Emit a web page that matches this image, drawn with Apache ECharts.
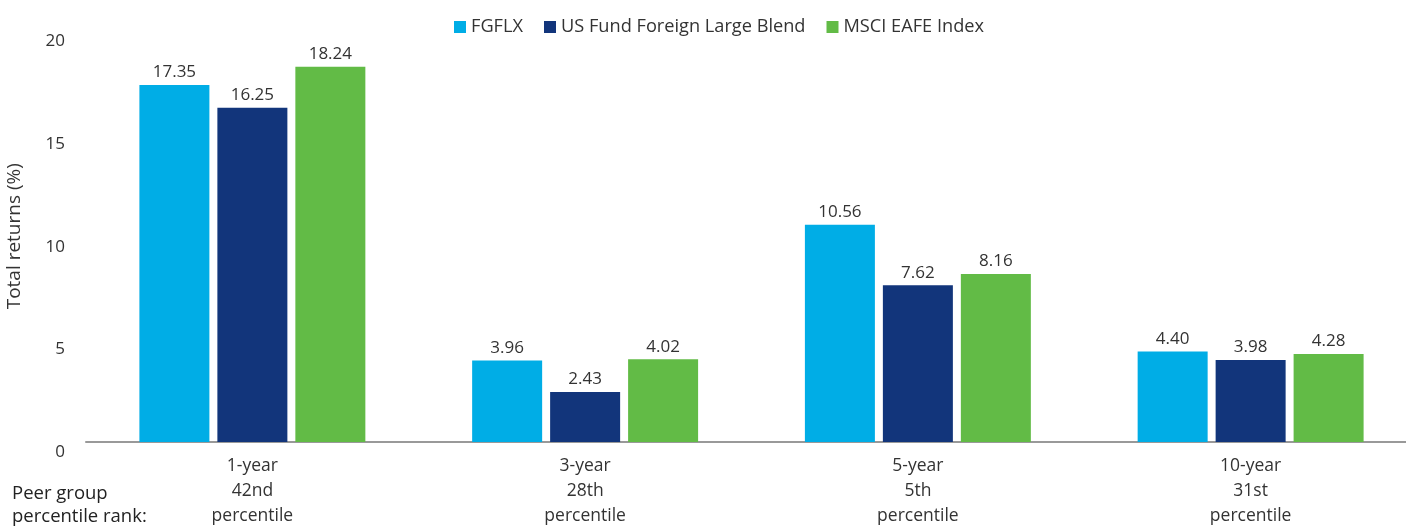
<!DOCTYPE html>
<html>
<head>
<meta charset="utf-8">
<script src="https://cdn.jsdelivr.net/npm/echarts@6/dist/echarts.min.js"></script>
<style>
  html, body { margin: 0; padding: 0; background: #fff; }
  #chart { width: 1406px; height: 527px; }
</style>
</head>
<body>
<div id="chart"></div>
<script>
var categories = ['1-year\n42nd\npercentile', '3-year\n28th\npercentile', '5-year\n5th\npercentile', '10-year\n31st\npercentile'];
var seriesNames = ['FGFLX', 'US Fund Foreign Large Blend', 'MSCI EAFE Index'];
var fgflx = [17.35, 3.96, 10.56, 4.40];
var peerGroup = [16.25, 2.43, 7.62, 3.98];
var eafe = [18.24, 4.02, 8.16, 4.28];
var yTicks = [0, 5, 10, 15, 20];

var colors = ['#00ade6', '#12357b', '#62bb46'];
var font = '"Open Sans", Lato, sans-serif';
var textColor = '#333';

function makeSeries(name, data) {
    return {
        name: name, type: 'bar', data: data,
        barWidth: 70, barGap: '11.4%',
        label: {
            show: true, position: 'top', distance: 4,
            formatter: function (p) { return p.value.toFixed(2); },
            fontFamily: font, fontSize: 17, color: textColor
        }
    };
}

var chart = echarts.init(document.getElementById('chart'));
chart.setOption({
    animation: false,
    color: colors,
    legend: {
        top: 13, left: 449,
        icon: 'rect', itemWidth: 12, itemHeight: 12, itemGap: 21,
        textStyle: { fontFamily: font, fontSize: 18.2, color: textColor },
        data: seriesNames
    },
    grid: { left: 86, top: 30.5, width: 1331, height: 411.5, outerBoundsMode: 'none' },
    xAxis: {
        type: 'category', data: categories,
        axisLine: { lineStyle: { color: '#999', width: 2 } },
        axisTick: { show: false },
        axisLabel: { fontFamily: font, fontSize: 17.5, color: textColor, lineHeight: 25, margin: 12 }
    },
    yAxis: {
        type: 'value', min: yTicks[0], max: yTicks[yTicks.length - 1], interval: 5,
        name: 'Total returns (%)', nameLocation: 'middle', nameGap: 62,
        nameTextStyle: { fontFamily: font, fontSize: 19, color: textColor },
        axisLine: { show: false }, axisTick: { show: false },
        splitLine: { show: false },
        axisLabel: { fontFamily: font, fontSize: 17, color: textColor, margin: 21, verticalAlign: 'top', padding: [2, 0, 0, 0] }
    },
    graphic: [{
        type: 'text', left: 12, top: 482,
        style: { text: 'Peer group\npercentile rank:', fontFamily: font, fontSize: 18.5, lineHeight: 23, fill: '#222' }
    }],
    series: [
        makeSeries(seriesNames[0], fgflx),
        makeSeries(seriesNames[1], peerGroup),
        makeSeries(seriesNames[2], eafe)
    ]
});
</script>
</body>
</html>
